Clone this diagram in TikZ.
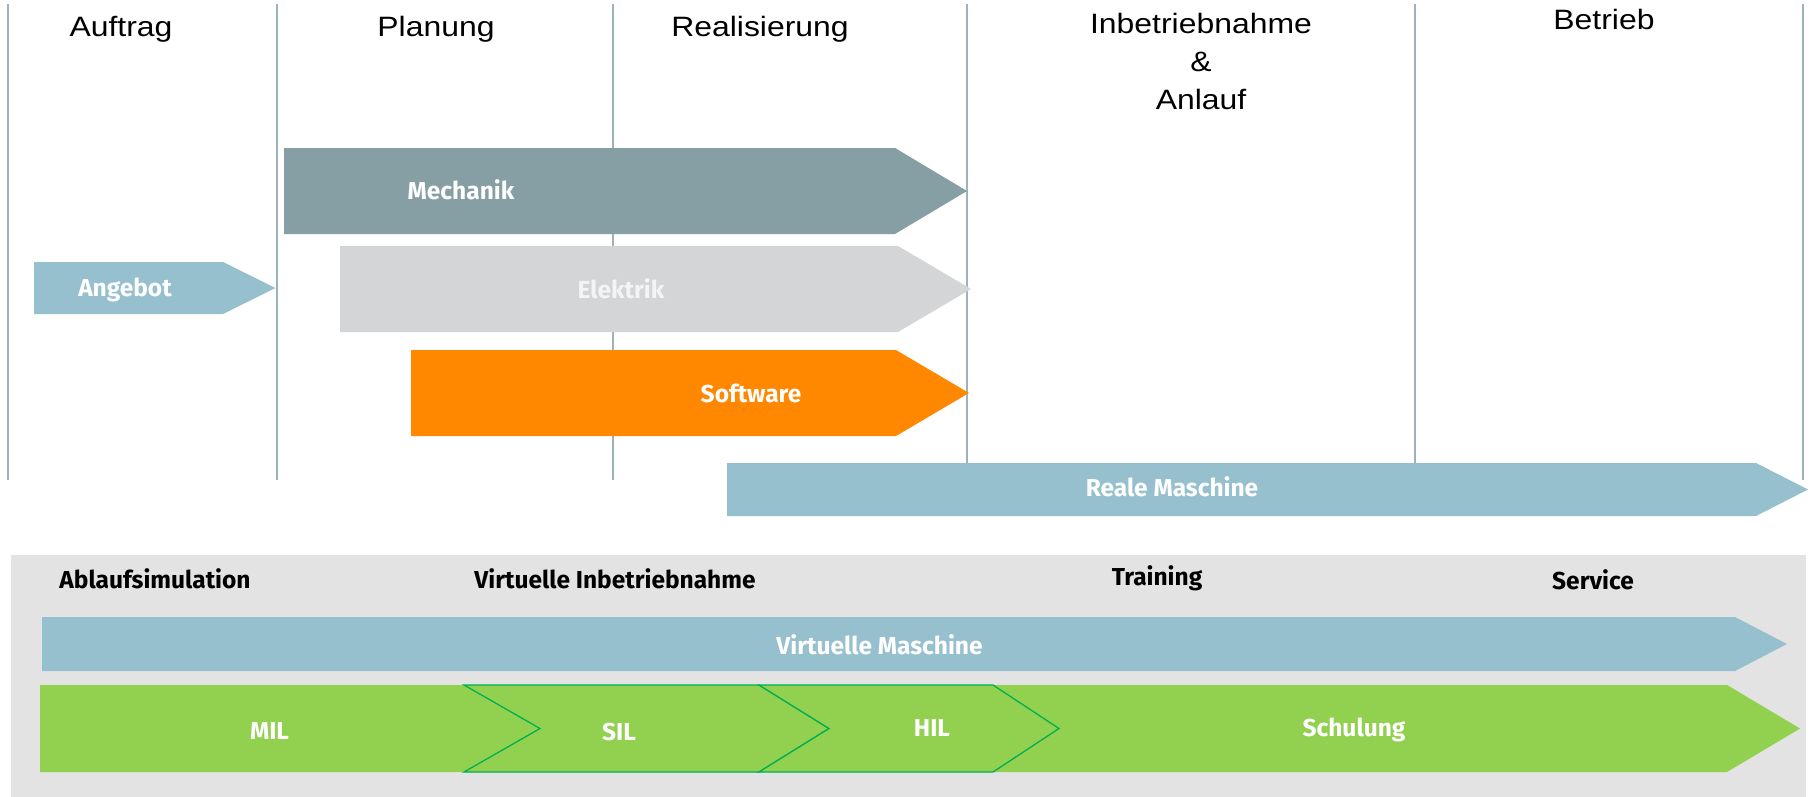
\documentclass[tikz,border=0pt]{standalone}
\usepackage{fontspec}
\newfontfamily\hdrfont[FakeStretch=1.14]{Liberation Sans}
\newfontfamily\lblfont{Fira Sans}
\definecolor{vline}{HTML}{9EB3B8}
\definecolor{mechc}{HTML}{869FA4}
\definecolor{elekc}{HTML}{D4D5D7}
\definecolor{softc}{HTML}{FF8800}
\definecolor{bluec}{HTML}{97C0CE}
\definecolor{greenc}{HTML}{92D050}
\definecolor{greenline}{HTML}{00B050}
\definecolor{panelc}{HTML}{E3E3E3}
\definecolor{elektext}{HTML}{F4F4F4}
\begin{document}
\begin{tikzpicture}[x=1pt,y=-1pt,
  phaseline/.style={draw=vline,line width=1.5pt},
  hdr/.style={anchor=base,inner sep=0pt,font=\hdrfont\fontsize{28}{38.3}\selectfont,text=black,align=center},
  lbl/.style={anchor=base,inner sep=0pt,font=\lblfont\bfseries\fontsize{24.5}{28}\selectfont,text=white},
  dlbl/.style={lbl,text=black},
  chevron/.style={fill=greenc,draw=greenline,line width=1.3pt,line join=miter}]
\useasboundingbox (0,0) rectangle (1814,797);
\fill[white] (0,0) rectangle (1814,797);
% phase separators
\foreach \x in {8,277,613,967,1415,1803}
  \draw[phaseline] (\x,4) -- (\x,480);
% phase headers
\node[hdr] (auftrag) at (121,37) {Auftrag};
\node[hdr] (planung) at (436,37) {Planung};
\node[hdr] (real) at (760,37) {Realisierung};
\node[hdr,anchor=north] (inbetr) at (1201,12.9) {Inbetriebnahme\\\&\\Anlauf};
\node[hdr] (betrieb) at (1604,30) {Betrieb};
% upper arrows
\fill[mechc] (284,148) -- (895,148) -- (967,191) -- (895,234) -- (284,234) -- cycle;
\fill[elekc] (340,246) -- (898,246) -- (971,289) -- (898,332) -- (340,332) -- cycle;
\fill[softc] (411,350) -- (896,350) -- (969,393) -- (896,436) -- (411,436) -- cycle;
\fill[bluec] (34,262) -- (223,262) -- (275.5,288) -- (223,314) -- (34,314) -- cycle;
\fill[bluec] (727,463) -- (1756,463) -- (1808,489.5) -- (1756,516) -- (727,516) -- cycle;
\node[lbl] (mech) at (461,199) {Mechanik};
\node[lbl,text=elektext] (elek) at (621,298) {Elektrik};
\node[lbl] (soft) at (751,402.5) {Software};
\node[lbl] (angebot) at (125,296.5) {Angebot};
\node[lbl] (reale) at (1172,496) {Reale Maschine};
% lower panel
\fill[panelc] (11,555) rectangle (1806,797);
\node[dlbl] (ablauf) at (155,588) {Ablaufsimulation};
\node[dlbl] (vibn) at (615,588) {Virtuelle Inbetriebnahme};
\node[dlbl] (training) at (1157,585) {Training};
\node[dlbl] (service) at (1593,589) {Service};
\fill[bluec] (42,617) -- (1735,617) -- (1787,644) -- (1735,671) -- (42,671) -- cycle;
\node[lbl] (vm) at (879.5,654) {Virtuelle Maschine};
\fill[greenc] (40,685) -- (1727,685) -- (1800,728.5) -- (1727,772) -- (40,772) -- cycle;
\path[chevron] (464,685) -- (759,685) -- (829,728.5) -- (759,772) -- (464,772) -- (540,728.5) -- cycle;
\path[chevron] (759,685) -- (993,685) -- (1059,728.5) -- (993,772) -- (759,772) -- (829,728.5) -- cycle;
\node[lbl] (mil) at (269.5,739) {MIL};
\node[lbl] (sil) at (619,740) {SIL};
\node[lbl] (hil) at (932,736.5) {HIL};
\node[lbl] (schulung) at (1354,736.5) {Schulung};
\end{tikzpicture}
\end{document}
